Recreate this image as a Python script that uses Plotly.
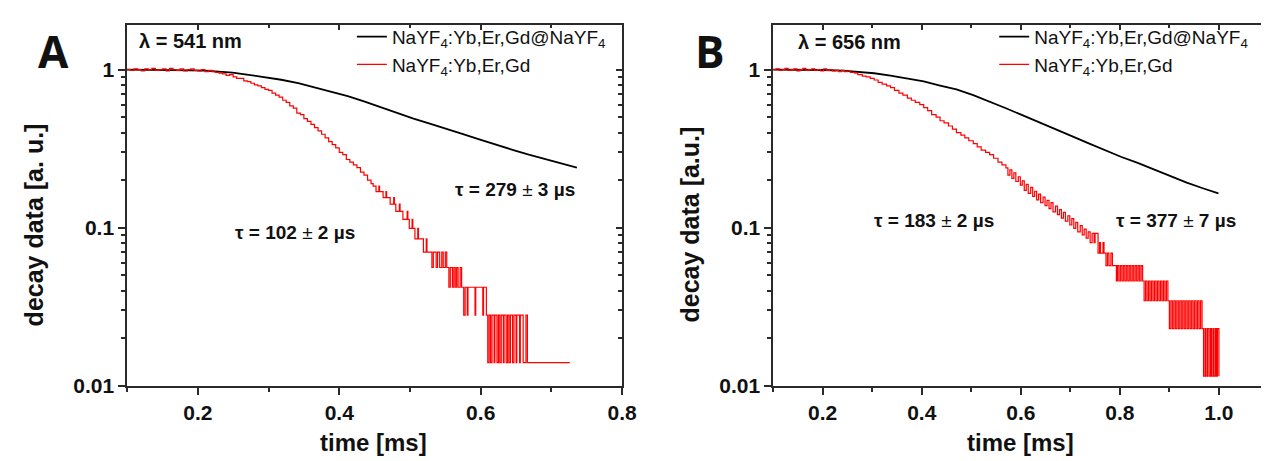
import plotly.graph_objects as go

W, H = 1269, 461

# ---------------- data ----------------
# Panel A, lambda = 541 nm
a_black_t = [0.100, 0.130, 0.160, 0.190, 0.210, 0.225, 0.249, 0.272, 0.295, 0.318, 0.342, 0.365,
             0.388, 0.412, 0.435, 0.458, 0.482, 0.505, 0.528, 0.552, 0.575, 0.598, 0.621, 0.645,
             0.668, 0.691, 0.715, 0.736]
a_black_y = [1.000, 1.000, 0.995, 0.990, 0.985, 0.972, 0.958, 0.927, 0.896, 0.863, 0.823, 0.774,
             0.731, 0.680, 0.630, 0.578, 0.530, 0.490, 0.455, 0.423, 0.391, 0.362, 0.335, 0.311,
             0.290, 0.272, 0.256, 0.240]

a_red_t = [0.100, 0.105, 0.110, 0.115, 0.120, 0.125, 0.130, 0.135, 0.140, 0.145, 0.150, 0.155,
           0.160, 0.165, 0.170, 0.175, 0.180, 0.185, 0.190, 0.195, 0.200, 0.205, 0.210, 0.215,
           0.220, 0.225, 0.230, 0.235, 0.240, 0.245, 0.250, 0.255, 0.260, 0.265, 0.270, 0.275,
           0.280, 0.285, 0.290, 0.295, 0.300, 0.305, 0.310, 0.315, 0.320, 0.325, 0.330, 0.335,
           0.340, 0.345, 0.350, 0.355, 0.360, 0.365, 0.370, 0.375, 0.380, 0.385, 0.390, 0.395,
           0.400, 0.405, 0.410, 0.415, 0.420, 0.425, 0.430, 0.435, 0.440, 0.445,
           0.448, 0.452, 0.456, 0.457, 0.462, 0.466, 0.467, 0.472, 0.477, 0.478, 0.480, 0.485,
           0.486, 0.490, 0.496, 0.497, 0.499, 0.503, 0.504, 0.507, 0.511, 0.512, 0.517, 0.519,
           0.523, 0.524, 0.529, 0.531, 0.533, 0.537, 0.539, 0.542, 0.545, 0.547, 0.550, 0.552,
           0.555, 0.557, 0.560, 0.562, 0.564, 0.566, 0.568, 0.571, 0.573, 0.576, 0.578, 0.581,
           0.582, 0.590, 0.592, 0.593, 0.600, 0.603, 0.604, 0.608, 0.610, 0.612, 0.614, 0.616,
           0.619, 0.620, 0.623, 0.625, 0.627, 0.629, 0.632, 0.633, 0.636, 0.638, 0.640, 0.642,
           0.645, 0.647, 0.650, 0.651, 0.655, 0.656, 0.660, 0.664, 0.666, 0.726]
a_red_y = [1.00, 0.99, 1.01, 1.00, 0.98, 1.01, 1.00, 1.02, 0.99, 1.00, 1.01, 0.98,
           1.02, 1.00, 0.99, 1.01, 0.98, 1.00, 1.01, 0.99, 0.98, 1.00, 0.97, 0.99,
           0.97, 0.96, 0.95, 0.94, 0.92, 0.93, 0.90, 0.88, 0.88, 0.85, 0.84, 0.82,
           0.80, 0.79, 0.77, 0.75, 0.74, 0.71, 0.69, 0.67, 0.64, 0.62, 0.59, 0.57,
           0.53, 0.52, 0.49, 0.47, 0.45, 0.43, 0.41, 0.39, 0.37, 0.35, 0.335, 0.32,
           0.30, 0.29, 0.27, 0.26, 0.25, 0.24, 0.225, 0.215, 0.20, 0.19,
           0.183, 0.169, 0.183, 0.169, 0.155, 0.169, 0.155, 0.141, 0.155, 0.141, 0.127, 0.141,
           0.127, 0.113, 0.127, 0.113, 0.099, 0.113, 0.099, 0.085, 0.099, 0.085, 0.085, 0.070,
           0.085, 0.070, 0.070, 0.056, 0.070, 0.056, 0.070, 0.056, 0.070, 0.056, 0.070, 0.056,
           0.042, 0.056, 0.042, 0.056, 0.042, 0.056, 0.042, 0.056, 0.042, 0.028, 0.042, 0.028,
           0.042, 0.042, 0.028, 0.042, 0.042, 0.028, 0.042, 0.028, 0.014, 0.028, 0.014, 0.028,
           0.014, 0.028, 0.014, 0.028, 0.014, 0.028, 0.014, 0.028, 0.014, 0.028, 0.014, 0.028,
           0.014, 0.028, 0.014, 0.028, 0.014, 0.028, 0.014, 0.028, 0.014, 0.014]

# Panel B, lambda = 656 nm
b_black_t = [0.100, 0.150, 0.200, 0.240, 0.271, 0.304, 0.337, 0.371, 0.404, 0.437, 0.470, 0.504,
             0.537, 0.570, 0.603, 0.636, 0.670, 0.703, 0.736, 0.769, 0.802, 0.836, 0.869, 0.902,
             0.935, 0.969, 0.999]
b_black_y = [1.000, 1.000, 0.995, 0.985, 0.972, 0.949, 0.918, 0.884, 0.843, 0.793, 0.749, 0.690,
             0.630, 0.570, 0.515, 0.467, 0.422, 0.380, 0.343, 0.309, 0.281, 0.257, 0.233, 0.211,
             0.193, 0.177, 0.165]

b_red_t = [0.100, 0.106, 0.112, 0.118, 0.124, 0.130, 0.136, 0.142, 0.148, 0.154, 0.160, 0.166,
           0.172, 0.178, 0.184, 0.190, 0.196, 0.202, 0.208, 0.214, 0.220, 0.226, 0.232, 0.238,
           0.244, 0.250, 0.256, 0.260, 0.265, 0.271, 0.280, 0.288, 0.296, 0.304, 0.312, 0.320,
           0.329, 0.337, 0.345, 0.354, 0.362, 0.371, 0.379, 0.387, 0.396, 0.404, 0.412, 0.420,
           0.429, 0.437, 0.445, 0.454, 0.462, 0.470, 0.479, 0.487, 0.495, 0.504, 0.512, 0.520,
           0.529, 0.537, 0.545, 0.554, 0.562, 0.570, 0.574, 0.578, 0.582, 0.586, 0.590, 0.595,
           0.599, 0.603, 0.607, 0.611, 0.615, 0.620, 0.624, 0.628, 0.632, 0.636, 0.640, 0.645,
           0.649, 0.653, 0.657, 0.661, 0.665, 0.670, 0.674, 0.678, 0.682, 0.686, 0.690, 0.695,
           0.699, 0.703, 0.707, 0.711, 0.715, 0.720, 0.724, 0.728, 0.732, 0.736, 0.740, 0.744,
           0.748, 0.750, 0.756, 0.759, 0.761, 0.766, 0.768, 0.772, 0.775, 0.778, 0.782, 0.785,
           0.790, 0.793, 0.795, 0.798, 0.801, 0.804, 0.807, 0.810, 0.813, 0.816, 0.819, 0.822,
           0.825, 0.828, 0.831, 0.834, 0.837, 0.840, 0.843, 0.846, 0.849, 0.852, 0.855, 0.858,
           0.861, 0.864, 0.867, 0.870, 0.873, 0.876, 0.879, 0.882, 0.885, 0.888, 0.891, 0.894,
           0.897, 0.900, 0.903, 0.906, 0.909, 0.912, 0.915, 0.918, 0.921, 0.924, 0.927, 0.930,
           0.933, 0.936, 0.939, 0.942, 0.945, 0.948, 0.951, 0.954, 0.957, 0.960, 0.963, 0.966,
           0.969, 0.972, 0.974, 0.977, 0.980, 0.983, 0.985, 0.988, 0.990, 0.993, 0.995, 0.997,
           1.000]
b_red_y = [1.00, 1.01, 0.99, 1.00, 1.02, 0.99, 1.00, 1.01, 0.98, 1.00, 1.02, 0.99,
           1.00, 1.01, 0.99, 1.00, 0.98, 1.01, 0.99, 1.00, 0.98, 0.99, 0.97, 0.99,
           0.97, 0.98, 0.96, 0.96, 0.95, 0.93, 0.91, 0.90, 0.88, 0.86, 0.83, 0.81,
           0.79, 0.77, 0.74, 0.71, 0.69, 0.66, 0.64, 0.62, 0.60, 0.575, 0.55, 0.52,
           0.50, 0.475, 0.46, 0.44, 0.42, 0.40, 0.385, 0.37, 0.355, 0.34, 0.325, 0.31,
           0.30, 0.29, 0.275, 0.26, 0.25, 0.239, 0.215, 0.232, 0.205, 0.222, 0.196, 0.210,
           0.186, 0.198, 0.172, 0.188, 0.165, 0.180, 0.158, 0.170, 0.150, 0.163, 0.144, 0.156,
           0.138, 0.149, 0.132, 0.144, 0.126, 0.137, 0.121, 0.130, 0.115, 0.125, 0.110, 0.119,
           0.104, 0.114, 0.099, 0.108, 0.094, 0.103, 0.090, 0.098, 0.086, 0.094, 0.0805, 0.092,
           0.0805, 0.092, 0.069, 0.0805, 0.069, 0.0805, 0.069, 0.0575, 0.069, 0.0575, 0.069, 0.0575,
           0.0575, 0.046, 0.0575, 0.046, 0.0575, 0.046, 0.0575, 0.046, 0.0575, 0.046, 0.0575, 0.046,
           0.0575, 0.046, 0.0575, 0.046, 0.0575, 0.046, 0.0575, 0.046, 0.0345, 0.046, 0.0345, 0.046,
           0.0345, 0.046, 0.0345, 0.046, 0.0345, 0.046, 0.0345, 0.046, 0.0345, 0.046, 0.0345, 0.046,
           0.0345, 0.023, 0.0345, 0.023, 0.0345, 0.023, 0.0345, 0.023, 0.0345, 0.023, 0.0345, 0.023,
           0.0345, 0.023, 0.0345, 0.023, 0.0345, 0.023, 0.0345, 0.023, 0.0345, 0.023, 0.0345, 0.023,
           0.0115, 0.023, 0.0115, 0.023, 0.0115, 0.023, 0.0115, 0.023, 0.0115, 0.023, 0.0115, 0.023,
           0.0115]

y_major = [0.01, 0.1, 1]
y_major_text = ["0.01", "0.1", "1"]
y_minor = [0.02, 0.03, 0.04, 0.05, 0.06, 0.07, 0.08, 0.09,
           0.2, 0.3, 0.4, 0.5, 0.6, 0.7, 0.8, 0.9]

legend_black = "NaYF<sub>4</sub>:Yb,Er,Gd@NaYF<sub>4</sub>"
legend_red = "NaYF<sub>4</sub>:Yb,Er,Gd"

# ---------------- figure ----------------
FONT = "Liberation Sans"
AX = "#2a2a2a"


def X(p):
    return p / W


def Y(p):
    return 1 - p / H


fig = go.Figure()

fig.add_trace(go.Scatter(x=a_black_t, y=a_black_y, mode="lines", name=legend_black,
                         line=dict(color="black", width=1.8), xaxis="x", yaxis="y", legend="legend"))
fig.add_trace(go.Scatter(x=a_red_t, y=a_red_y, mode="lines", name=legend_red,
                         line=dict(color="red", width=1.2, shape="hv"), xaxis="x", yaxis="y",
                         legend="legend"))
fig.add_trace(go.Scatter(x=b_black_t, y=b_black_y, mode="lines", name=legend_black,
                         line=dict(color="black", width=1.8), xaxis="x2", yaxis="y2", legend="legend2"))
fig.add_trace(go.Scatter(x=b_red_t, y=b_red_y, mode="lines", name=legend_red,
                         line=dict(color="red", width=1.2, shape="hv"), xaxis="x2", yaxis="y2",
                         legend="legend2"))
# empty traces so that the mirrored frame axes (top / right) are drawn
for xa, ya in (("x3", "y"), ("x", "y3"), ("x4", "y2")):
    fig.add_trace(go.Scatter(x=[], y=[], xaxis=xa, yaxis=ya, showlegend=False,
                             hoverinfo="skip", mode="lines"))

tickfont = dict(family=FONT, size=21, color="#111", weight="bold")
YR = [-2, 0.285]


def xax(rng, dom):
    return dict(domain=dom, range=rng, showline=True, linecolor=AX, linewidth=1.5,
                ticks="outside", ticklen=7, tickwidth=1.5, tickcolor=AX,
                tick0=0, dtick=0.2, tickformat=".1f", tickfont=tickfont,
                minor=dict(tick0=0, dtick=0.1, ticks="outside", ticklen=4, tickwidth=1.5, tickcolor=AX),
                showgrid=False, zeroline=False)


def yax(anchor):
    return dict(type="log", range=YR, domain=[Y(387), Y(17)], anchor=anchor,
                showline=True, linecolor=AX, linewidth=1.5,
                ticks="outside", ticklen=7, tickwidth=1.5, tickcolor=AX,
                tickvals=y_major, ticktext=y_major_text, tickfont=tickfont,
                minor=dict(tickvals=y_minor, ticks="outside", ticklen=4, tickwidth=1.5, tickcolor=AX),
                showgrid=False, zeroline=False)


def xtop(base, anchor, rng):
    return dict(overlaying=base, side="top", anchor=anchor, range=rng, showline=True,
                linecolor=AX, linewidth=1.5, ticks="inside", ticklen=6, tickwidth=1.5,
                tickcolor=AX, tick0=0, dtick=0.2, showticklabels=False,
                minor=dict(tick0=0, dtick=0.1, ticks="inside", ticklen=4, tickwidth=1.5, tickcolor=AX),
                showgrid=False, zeroline=False)


xa_rng = [0.1, 0.8]
xb_rng = [0.1, 1.087]

fig.update_layout(
    width=W, height=H,
    margin=dict(l=0, r=0, t=0, b=0),
    paper_bgcolor="white", plot_bgcolor="white",
    font=dict(family=FONT, color="#111"),
    xaxis=dict(xax(xa_rng, [X(120.5), X(621.5)]), anchor="y"),
    yaxis=yax("x"),
    xaxis2=dict(xax(xb_rng, [X(774.3), 1.0]), anchor="y2"),
    yaxis2=yax("x2"),
    xaxis3=xtop("x", "y", xa_rng),
    xaxis4=xtop("x2", "y2", xb_rng),
    yaxis3=dict(overlaying="y", side="right", anchor="x", type="log", range=YR,
                showline=True, linecolor=AX, linewidth=1.5, ticks="inside", ticklen=6,
                tickwidth=1.5, tickcolor=AX, tickvals=y_major, showticklabels=False,
                minor=dict(tickvals=y_minor, ticks="inside", ticklen=4, tickwidth=1.5, tickcolor=AX),
                showgrid=False, zeroline=False),
    legend=dict(x=X(348), y=Y(10), xanchor="left", yanchor="top", bgcolor="rgba(0,0,0,0)",
                font=dict(family=FONT, size=19, color="#111"), tracegroupgap=0),
    legend2=dict(x=X(998), y=Y(10), xanchor="left", yanchor="top", bgcolor="rgba(0,0,0,0)",
                 font=dict(family=FONT, size=19, color="#111"), tracegroupgap=0),
    showlegend=True,
)

ann_font = dict(family=FONT, size=19, color="#111")
title_font = dict(family=FONT, size=24, color="#111", weight="bold")
ytitle_font = dict(family=FONT, size=25, color="#111", weight="bold")
big_font = dict(family="Open Sans", size=44, color="#111", weight="bold")

annotations = [
    dict(x=X(46), y=Y(44), text="A", font=big_font),
    dict(x=X(710), y=Y(44), text="B", font=big_font),
    dict(x=X(131), y=Y(34), text="<b>λ = 541 nm</b>", xanchor="left", font=dict(ann_font, size=20)),
    dict(x=X(797), y=Y(35), text="<b>λ = 656 nm</b>", xanchor="left", font=dict(ann_font, size=20)),
    dict(x=X(513), y=Y(186), text="<b>τ = 279 </b>±<b> 3 µs</b>", font=ann_font),
    dict(x=X(290), y=Y(230), text="<b>τ = 102 </b>±<b> 2 µs</b>", font=ann_font),
    dict(x=X(937), y=Y(218), text="<b>τ = 183 </b>±<b> 2 µs</b>", font=ann_font),
    dict(x=X(1182), y=Y(218), text="<b>τ = 377 </b>±<b> 7 µs</b>", font=ann_font),
    dict(x=X(26), y=Y(222), text="decay data [a. u.]", textangle=-90, font=ytitle_font),
    dict(x=X(690), y=Y(222), text="decay data [a.u.]", textangle=-90, font=ytitle_font),
    dict(x=X(370), y=Y(445), text="time [ms]", font=title_font),
    dict(x=X(1025), y=Y(445), text="time [ms]", font=title_font),
]
for a in annotations:
    a.setdefault("xanchor", "center")
    a.update(xref="paper", yref="paper", showarrow=False, yanchor="middle")
fig.update_layout(annotations=annotations)

fig.write_html("out.html")
